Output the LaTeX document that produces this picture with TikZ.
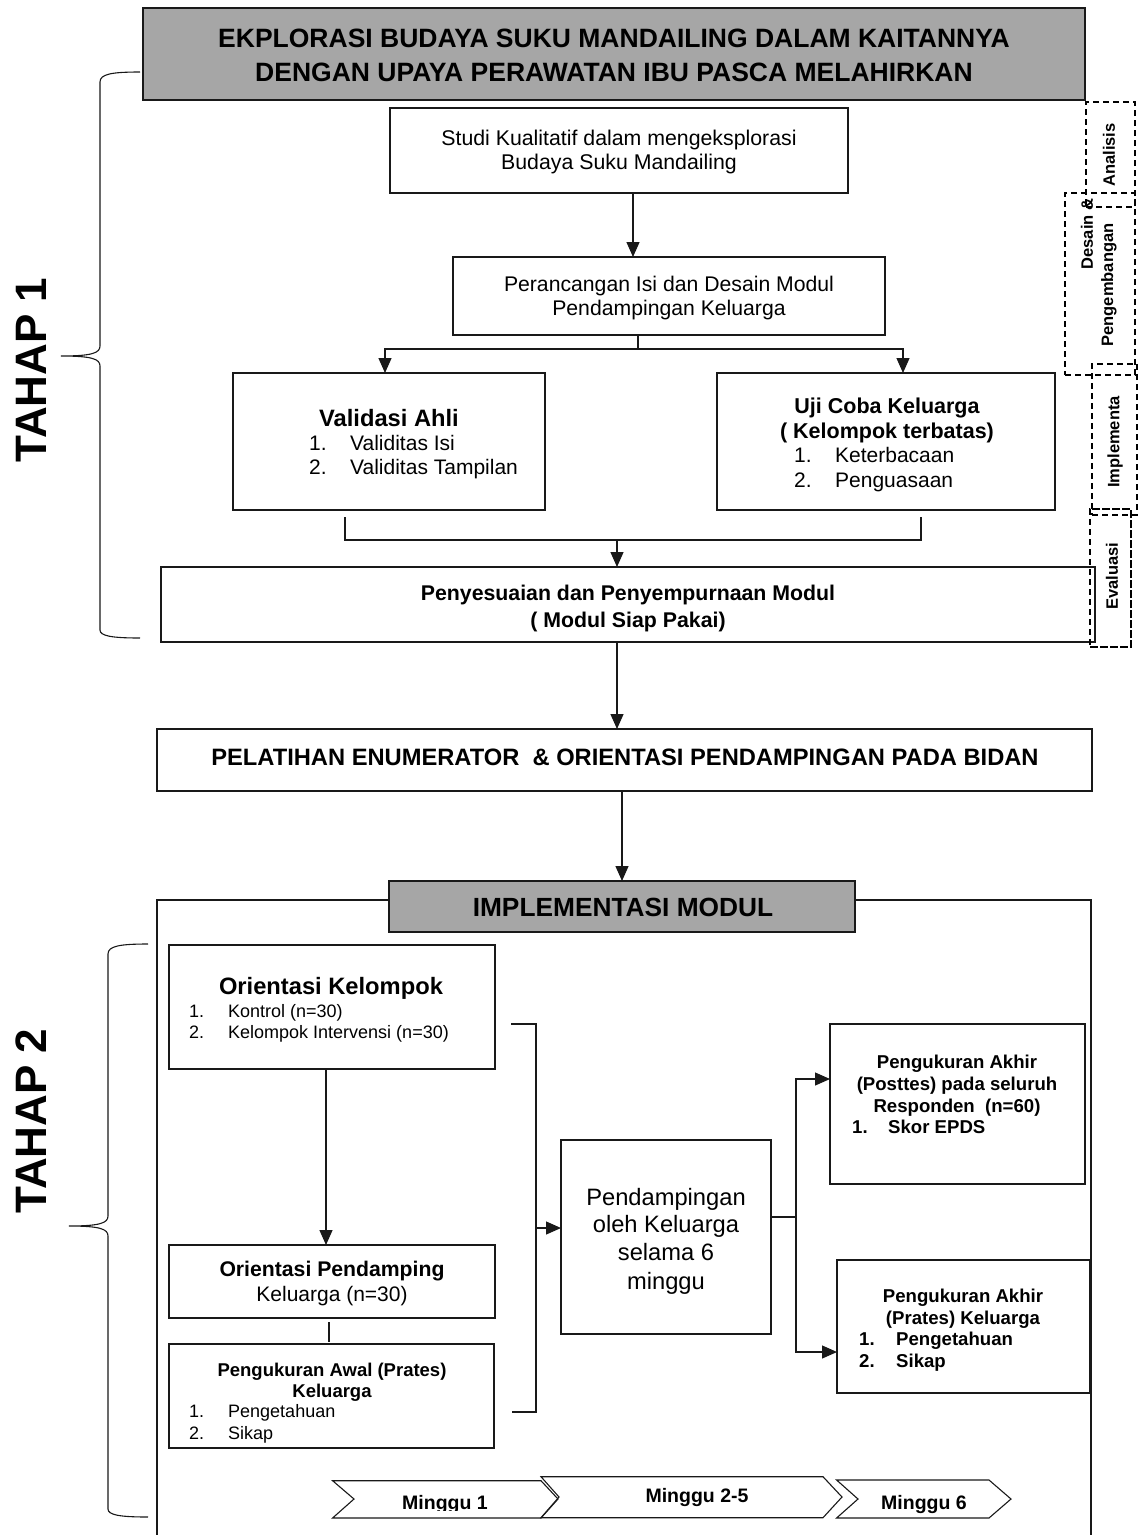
\documentclass[tikz,border=0pt]{standalone}
\usepackage{fontspec}
\setmainfont{Liberation Sans}
\usetikzlibrary{arrows.meta}
\definecolor{headgray}{RGB}{166,166,166}
\definecolor{ln}{RGB}{25,25,25}
\newcommand{\fsz}[1]{\fontsize{#1}{#1}\selectfont}
\begin{document}
\begin{tikzpicture}[x=1pt,y=-1pt,
  box/.style={draw=ln, line width=1.3pt, fill=white, inner sep=0pt, outer sep=0pt, anchor=north west},
  hbox/.style={box, fill=headgray},
  dbox/.style={draw=black, line width=1.3pt, dash pattern=on 6pt off 4pt, inner sep=0pt, outer sep=0pt, anchor=north west},
  conn/.style={draw=ln, line width=1.3pt},
  arr/.style={conn, -{Triangle[length=15pt,width=13pt]}},
  lbl/.style={inner sep=0pt, anchor=base},
  lbw/.style={inner sep=0pt, anchor=base west},
  rot/.style={inner sep=0pt, rotate=90, font=\bfseries\fsz{16.5}},
  chev/.style={draw=ln, line width=1.1pt, line join=miter},
  brace/.style={draw=ln, line width=1.1pt}
]
\useasboundingbox (0,0) rectangle (1139,1535);

% ---------- TAHAP labels and braces ----------
\node[inner sep=0pt, rotate=90, font=\bfseries\fsz{44}] (tahap1) at (31,370) {TAHAP 1};
\node[inner sep=0pt, rotate=90, font=\bfseries\fsz{44}] (tahap2) at (31,1121) {TAHAP 2};
\draw[brace] (140,72) .. controls (112,72) and (100,74) .. (100,82) -- (100,346)
  .. controls (100,353) and (92,356) .. (61,356) .. controls (92,356) and (100,359) .. (100,366)
  -- (100,630) .. controls (100,636) and (112,638) .. (140,638);
\draw[brace] (148,944) .. controls (120,944) and (108,946) .. (108,954) -- (108,1216)
  .. controls (108,1223) and (100,1226) .. (69,1226) .. controls (100,1226) and (108,1229) .. (108,1236)
  -- (108,1509) .. controls (108,1515) and (120,1517) .. (148,1517);

% ---------- Title ----------
\node[hbox, minimum width=942pt, minimum height=92pt] (title) at (143,8) {};
\node[lbl, font=\bfseries\fsz{26.5}] (title1) at (614,47.5) {EKPLORASI BUDAYA SUKU MANDAILING DALAM KAITANNYA};
\node[lbl, font=\bfseries\fsz{26.5}] (title2) at (614,81.5) {DENGAN UPAYA PERAWATAN IBU PASCA MELAHIRKAN};

% ---------- Side dashed labels ----------
\node[dbox, minimum width=70pt, minimum height=182pt] (dDes) at (1065,193) {};
\node[dbox, minimum width=49pt, minimum height=105pt] (dAna) at (1086,102) {};
\node[dbox, minimum width=45pt, minimum height=151pt] (dImp) at (1092,364) {};
\node[dbox, minimum width=41pt, minimum height=138pt] (dEva) at (1090,509) {};
\node[rot] (lAna) at (1109,155) {Analisis};
\node[rot] (lDes1) at (1087,234) {Desain \&};
\node[rot] (lDes2) at (1109,285) {Pengembangan};
\node[rot] (lImp) at (1115,442) {Implementa};
\node[rot] (lEva) at (1112,576) {Evaluasi};

% ---------- Tahap 1 flow ----------
\node[box, minimum width=458pt, minimum height=85pt] (studi) at (390,108) {};
\node[lbl, font=\fsz{21.3}] (studi1) at (619,145.7) {Studi Kualitatif dalam mengeksplorasi};
\node[lbl, font=\fsz{21.3}] (studi2) at (619,169.7) {Budaya Suku Mandailing};

\node[box, minimum width=432pt, minimum height=78pt] (peran) at (453,257) {};
\node[lbl, font=\fsz{21.2}] (peran1) at (669,291.7) {Perancangan Isi dan Desain Modul};
\node[lbl, font=\fsz{21.2}] (peran2) at (669,315.7) {Pendampingan Keluarga};

\coordinate (xa) at (633,0);
\draw[arr] (studi.south -| xa) -- (peran.north -| xa);

\node[box, minimum width=312pt, minimum height=137pt] (valid) at (233,373) {};
\node[lbl, font=\bfseries\fsz{23.7}] (valid0) at (389,426.5) {Validasi Ahli};
\node[lbw, font=\fsz{21}] (valid1n) at (309,450.5) {1.};
\node[lbw, font=\fsz{21}] (valid1) at (350,450.5) {Validitas Isi};
\node[lbw, font=\fsz{21}] (valid2n) at (309,474.5) {2.};
\node[lbw, font=\fsz{21}] (valid2) at (350,474.5) {Validitas Tampilan};

\node[box, minimum width=338pt, minimum height=137pt] (uji) at (717,373) {};
\node[lbl, font=\bfseries\fsz{21.5}] (uji0) at (887,413) {Uji Coba Keluarga};
\node[lbl, font=\bfseries\fsz{21.5}] (uji00) at (887,438) {( Kelompok terbatas)};
\node[lbw, font=\fsz{21}] (uji1n) at (794,462.5) {1.};
\node[lbw, font=\fsz{21}] (uji1) at (835,462.5) {Keterbacaan};
\node[lbw, font=\fsz{21}] (uji2n) at (794,487.5) {2.};
\node[lbw, font=\fsz{21}] (uji2) at (835,487.5) {Penguasaan};

\coordinate (xs) at (638,0);
\coordinate (sp) at (638,349);
\coordinate (xv) at (385,0);
\coordinate (xu) at (903,0);
\draw[conn] (peran.south -| xs) -- (sp);
\draw[arr] (sp) -| (valid.north -| xv);
\draw[arr] (sp) -| (uji.north -| xu);

\coordinate (m1) at (345,517);
\coordinate (m2) at (345,540);
\coordinate (m3) at (921,540);
\coordinate (m4) at (921,517);
\coordinate (mm) at (617,540);
\draw[conn] (m1) -- (m2) -- (m3) -- (m4);

\node[box, minimum width=934pt, minimum height=75pt] (peny) at (161,567) {};
\node[lbl, font=\bfseries\fsz{21.3}] (peny1) at (628,600.7) {Penyesuaian dan Penyempurnaan Modul};
\node[lbl, font=\bfseries\fsz{21.3}] (peny2) at (628,627.7) {( Modul Siap Pakai)};
\draw[arr] (mm) -- (peny.north -| mm);

% redraw Evaluasi dashed box over Penyesuaian
\draw[draw=black, line width=1.3pt, dash pattern=on 6pt off 4pt] (dEva.north west) rectangle (dEva.south east);

% ---------- Pelatihan ----------
\node[box, minimum width=935pt, minimum height=62pt] (pel) at (157,729) {};
\node[lbl, font=\bfseries\fsz{23.7}] (pel1) at (625,765.5) {PELATIHAN ENUMERATOR \ \& ORIENTASI PENDAMPINGAN PADA BIDAN};
\draw[arr] (peny.south -| mm) -- (pel.north -| mm);

% ---------- Tahap 2 ----------
\node[box, fill=none, minimum width=934pt, minimum height=660pt] (outer) at (157,900) {};
\node[hbox, minimum width=466pt, minimum height=51pt] (impl) at (389,881) {};
\node[lbl, font=\bfseries\fsz{26.3}] (impl1) at (623,916.5) {IMPLEMENTASI MODUL};
\coordinate (xp) at (622,0);
\draw[arr] (pel.south -| xp) -- (impl.north -| xp);

\node[box, minimum width=326pt, minimum height=124pt] (ok) at (169,945) {};
\node[lbl, font=\bfseries\fsz{23.7}] (ok0) at (331,994.5) {Orientasi Kelompok};
\node[lbw, font=\fsz{18}] (ok1n) at (189,1017.5) {1.};
\node[lbw, font=\fsz{18}] (ok1) at (228,1017.5) {Kontrol (n=30)};
\node[lbw, font=\fsz{18}] (ok2n) at (189,1038.5) {2.};
\node[lbw, font=\fsz{18}] (ok2) at (228,1038.5) {Kelompok Intervensi (n=30)};

\node[box, minimum width=326pt, minimum height=73pt] (op) at (169,1245) {};
\node[lbl, font=\bfseries\fsz{21.2}] (op0) at (332,1276.6) {Orientasi Pendamping};
\node[lbl, font=\fsz{21}] (op1) at (332,1301.5) {Keluarga (n=30)};
\coordinate (xk) at (326,0);
\draw[arr] (ok.south -| xk) -- (op.north -| xk);

\node[box, minimum width=325pt, minimum height=104pt] (pa) at (169,1344) {};
\node[lbl, font=\bfseries\fsz{18.5}] (pa0) at (332,1376.7) {Pengukuran Awal (Prates)};
\node[lbl, font=\bfseries\fsz{18.5}] (pa00) at (332,1397.7) {Keluarga};
\node[lbw, font=\fsz{18}] (pa1n) at (189,1417.5) {1.};
\node[lbw, font=\fsz{18}] (pa1) at (228,1417.5) {Pengetahuan};
\node[lbw, font=\fsz{18}] (pa2n) at (189,1439.5) {2.};
\node[lbw, font=\fsz{18}] (pa2) at (228,1439.5) {Sikap};
\coordinate (c1) at (329,1322);
\coordinate (c2) at (329,1342);
\draw[conn] (c1) -- (c2);

\coordinate (b1) at (511,1024);
\coordinate (b2) at (536,1024);
\coordinate (b3) at (536,1412);
\coordinate (b4) at (512,1412);
\coordinate (ba) at (536,1228);
\draw[conn] (b1) -- (b2) -- (b3) -- (b4);

\node[box, minimum width=210pt, minimum height=194pt] (pend) at (561,1140) {};
\node[lbl, font=\fsz{23.7}] (pend1) at (666,1205.5) {Pendampingan};
\node[lbl, font=\fsz{23.7}] (pend2) at (666,1232.5) {oleh Keluarga};
\node[lbl, font=\fsz{23.7}] (pend3) at (666,1260.5) {selama 6};
\node[lbl, font=\fsz{23.7}] (pend4) at (666,1289.5) {minggu};
\draw[arr] (ba) -- (pend.west |- ba);

\node[box, minimum width=255pt, minimum height=160pt] (post) at (830,1024) {};
\node[lbl, font=\bfseries\fsz{18.6}] (post1) at (957,1068.6) {Pengukuran Akhir};
\node[lbl, font=\bfseries\fsz{18.6}] (post2) at (957,1090.6) {(Posttes) pada seluruh};
\node[lbl, font=\bfseries\fsz{18.6}] (post3) at (957,1112.6) {Responden \ (n=60)};
\node[lbw, font=\bfseries\fsz{18.6}] (post4n) at (852,1133.6) {1.};
\node[lbw, font=\bfseries\fsz{18.6}] (post4) at (888,1133.6) {Skor EPDS};

\node[box, minimum width=253pt, minimum height=133pt] (prat) at (837,1260) {};
\node[lbl, font=\bfseries\fsz{18.6}] (prat1) at (963,1302.6) {Pengukuran Akhir};
\node[lbl, font=\bfseries\fsz{18.6}] (prat2) at (963,1324.6) {(Prates) Keluarga};
\node[lbw, font=\bfseries\fsz{18.6}] (prat3n) at (859,1345.6) {1.};
\node[lbw, font=\bfseries\fsz{18.6}] (prat3) at (896,1345.6) {Pengetahuan};
\node[lbw, font=\bfseries\fsz{18.6}] (prat4n) at (859,1367.6) {2.};
\node[lbw, font=\bfseries\fsz{18.6}] (prat4) at (896,1367.6) {Sikap};

\coordinate (s1) at (796,1217);
\coordinate (sy1) at (0,1079);
\coordinate (sy2) at (0,1352);
\draw[conn] (pend.east |- s1) -- (s1);
\draw[arr] (s1) |- (post.west |- sy1);
\draw[arr] (s1) |- (prat.west |- sy2);

% ---------- Week chevrons ----------
\draw[chev] (332.6,1480.7) -- (541,1480.7) -- (558,1499) -- (541,1518) -- (332.6,1518) -- (354,1499) -- cycle;
\draw[chev] (541,1476.7) -- (823,1476.7) -- (842,1497) -- (823,1517.7) -- (541,1517.7) -- (559,1497) -- cycle;
\draw[chev] (836.6,1480) -- (989,1480) -- (1011,1499) -- (989,1518) -- (836.6,1518) -- (858,1499) -- cycle;
\begin{scope}
  \clip (370,1484) rectangle (530,1510);
  \node[lbl, font=\bfseries\fsz{19.5}] (w1) at (445,1509) {Minggu 1};
\end{scope}
\node[lbl, font=\bfseries\fsz{19.5}] (w2) at (697,1502) {Minggu 2-5};
\node[lbl, font=\bfseries\fsz{19.5}] (w3) at (924,1509) {Minggu 6};
\end{tikzpicture}
\end{document}
